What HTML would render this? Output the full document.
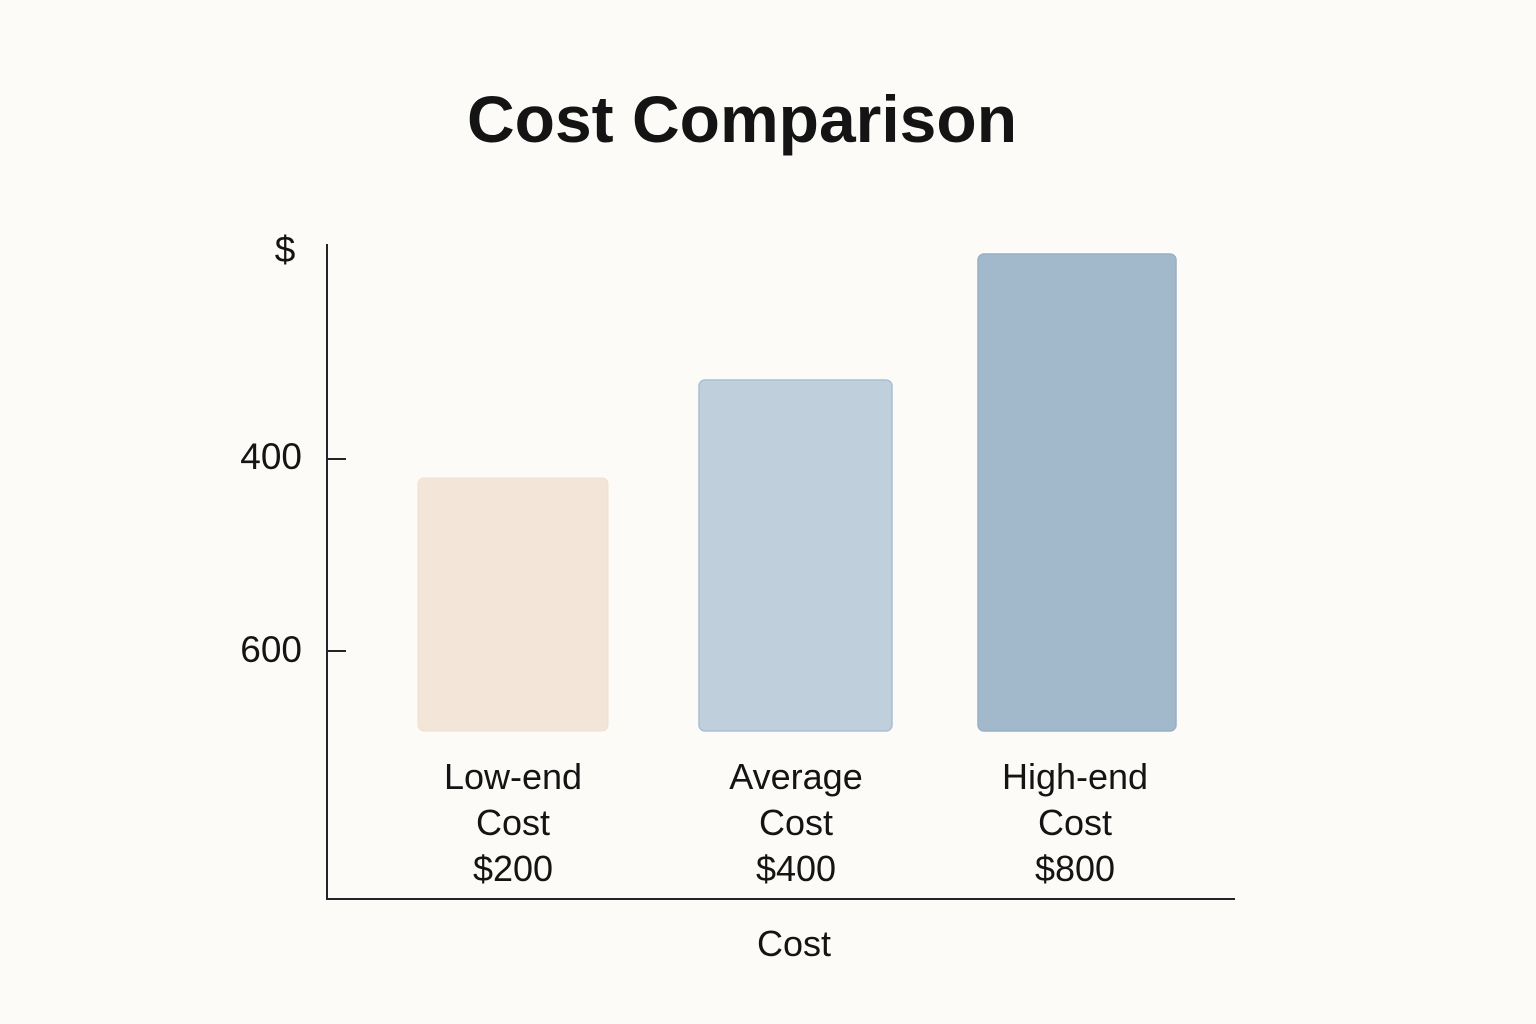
<!DOCTYPE html>
<html><head><meta charset="utf-8"><style>
html,body{margin:0;padding:0;background:#fcfbf7;}
svg{display:block;}
text{font-family:"Liberation Sans",sans-serif;fill:#141414;}
</style></head><body>
<svg width="1536" height="1024" viewBox="0 0 1536 1024">
<rect width="1536" height="1024" fill="#fcfbf7"/>
<text x="742" y="142" font-size="66" font-weight="bold" text-anchor="middle" fill="#151a1e">Cost Comparison</text>
<rect x="418" y="478" width="190" height="253" rx="6" fill="#f3e6d8" stroke="#efe0cf" stroke-width="1"/>
<rect x="699" y="380" width="193" height="351" rx="6" fill="#bfcfdb" stroke="#a9bfd2" stroke-width="1.5"/>
<rect x="978" y="254" width="198" height="477" rx="6" fill="#a2b9cb" stroke="#97b0c4" stroke-width="1.5"/>
<line x1="327" y1="244" x2="327" y2="900" stroke="#22262b" stroke-width="2"/>
<line x1="326" y1="899" x2="1235" y2="899" stroke="#22262b" stroke-width="2"/>
<line x1="327" y1="459" x2="346" y2="459" stroke="#22262b" stroke-width="2"/>
<line x1="327" y1="651" x2="346" y2="651" stroke="#22262b" stroke-width="2"/>
<text x="285" y="262" font-size="37" text-anchor="middle">$</text>
<text x="302" y="469" font-size="37" text-anchor="end">400</text>
<text x="302" y="662" font-size="37" text-anchor="end">600</text>
<g font-size="36" text-anchor="middle">
<text x="513" y="789">Low-end</text><text x="513" y="835">Cost</text><text x="513" y="881">$200</text>
<text x="796" y="789">Average</text><text x="796" y="835">Cost</text><text x="796" y="881">$400</text>
<text x="1075" y="789">High-end</text><text x="1075" y="835">Cost</text><text x="1075" y="881">$800</text>
<text x="794" y="956">Cost</text>
</g>
</svg>
</body></html>
